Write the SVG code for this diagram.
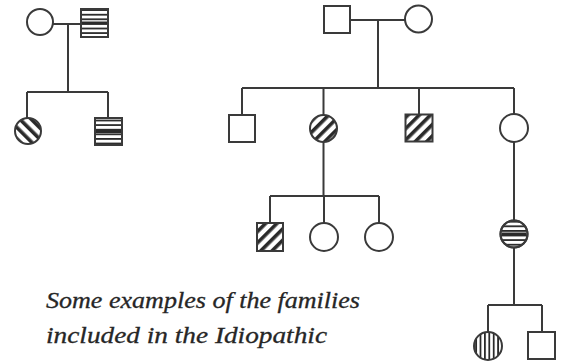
<svg xmlns="http://www.w3.org/2000/svg" width="565" height="362" viewBox="0 0 565 362">
<style>
.ln{stroke:#3a3a3a;stroke-width:2;fill:none}
.sh{stroke:#3a3a3a;stroke-width:2}
.w{fill:#fff}
.d1{fill:url(#diagR)}
.d2{fill:url(#diagL)}
.hz{fill:url(#horiz)}
.vt{fill:url(#vert)}
.cap{font-family:"Liberation Serif","DejaVu Serif",serif;font-style:italic;font-size:23px;fill:#262626;stroke:#262626;stroke-width:0.3}
</style>
<defs>
<pattern id="diagR" patternUnits="userSpaceOnUse" width="8" height="8" patternTransform="rotate(45)">
<rect width="8" height="8" fill="#fff"/><rect width="3.6" height="8" fill="#2a2a2a"/>
</pattern>
<pattern id="diagL" patternUnits="userSpaceOnUse" width="8" height="8" patternTransform="rotate(-45)">
<rect width="8" height="8" fill="#fff"/><rect width="3.6" height="8" fill="#2a2a2a"/>
</pattern>
<pattern id="horiz" patternUnits="userSpaceOnUse" width="6" height="4.6">
<rect width="6" height="4.6" fill="#fff"/><rect width="6" height="1.8" fill="#2a2a2a"/>
</pattern>
<pattern id="vert" patternUnits="userSpaceOnUse" width="4.4" height="6">
<rect width="4.4" height="6" fill="#fff"/><rect width="1.8" height="6" fill="#2a2a2a"/>
</pattern>
</defs>
<g id="connectors">
<path class="ln" d="M53 24H81M68 24V92M27 92H108M27 92V118M108 92V118"/>
<path class="ln" d="M350 20H405M378 20V88M242 88H514M242 88V115M323.5 88V115M419 88V114M514 88V114M514 142V220"/>
<path class="ln" d="M323.5 142V196M270 196H379M270 196V223M324 196V223M379 196V223"/>
<path class="ln" d="M514 248V305M488 305H542M488 305V332M542 305V332"/>
</g>
<g id="f1-mother"><circle class="sh w" cx="40" cy="22" r="13"/></g>
<g id="f1-father"><rect class="sh hz" x="81" y="9" width="27" height="28"/><rect x="82" y="21.5" width="25" height="3" fill="#2a2a2a"/></g>
<g id="f1-daughter"><circle class="sh d2" cx="28" cy="131" r="13"/></g>
<g id="f1-son"><rect class="sh hz" x="95" y="118" width="27" height="27"/><rect x="96" y="130" width="25" height="3" fill="#2a2a2a"/></g>
<g id="f2-father"><rect class="sh w" x="324" y="6" width="26" height="27"/></g>
<g id="f2-mother"><circle class="sh w" cx="418.5" cy="19" r="13.5"/></g>
<g id="f2-son1"><rect class="sh w" x="229" y="115" width="26" height="27"/></g>
<g id="f2-daughter1"><circle class="sh d1" cx="323.5" cy="128.5" r="13.5"/></g>
<g id="f2-son2"><rect class="sh d1" x="405.5" y="114.5" width="27" height="27"/></g>
<g id="f2-daughter2"><circle class="sh w" cx="514" cy="128" r="14"/></g>
<g id="f2-gson"><rect class="sh d1" x="257" y="223" width="26" height="28"/></g>
<g id="f2-gdaughter1"><circle class="sh w" cx="324" cy="237" r="14"/></g>
<g id="f2-gdaughter2"><circle class="sh w" cx="379" cy="237" r="14"/></g>
<g id="f2-gdaughter3"><circle class="sh hz" cx="514" cy="234" r="13.5"/><rect x="501.5" y="232.5" width="25" height="3" fill="#2a2a2a"/><circle class="ln" cx="514" cy="234" r="13.5"/></g>
<g id="f2-ggdaughter"><circle class="sh vt" cx="488" cy="346" r="14"/></g>
<g id="f2-ggson"><rect class="sh w" x="528" y="332" width="27" height="27"/></g>
<g id="caption">
<text class="cap" x="46" y="308" textLength="314" lengthAdjust="spacingAndGlyphs">Some examples of the families</text>
<text class="cap" x="46" y="343" textLength="281" lengthAdjust="spacingAndGlyphs">included in the Idiopathic</text>
</g>
</svg>
